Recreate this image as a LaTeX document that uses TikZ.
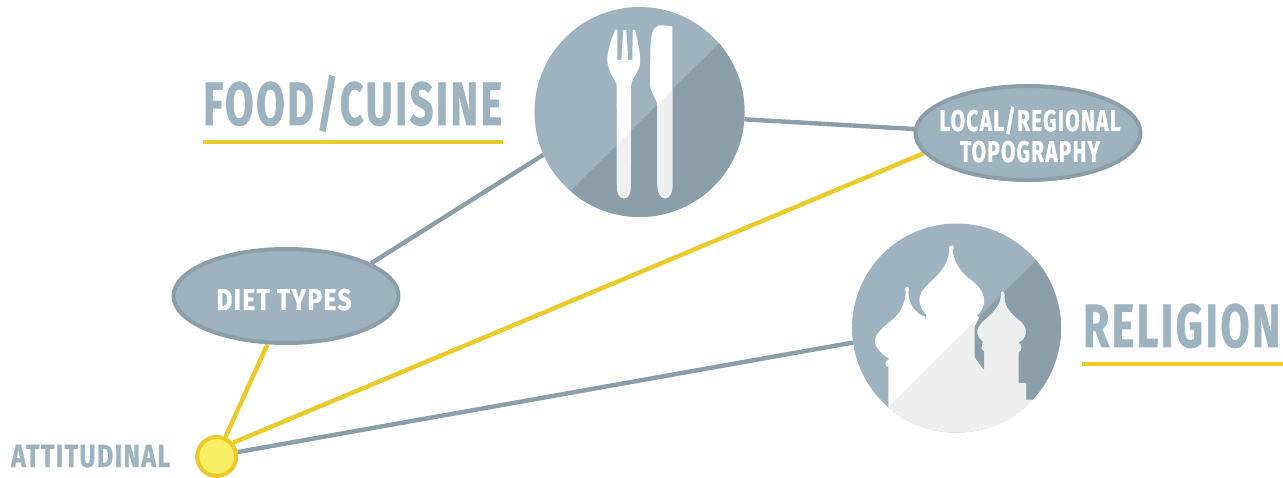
\documentclass[tikz,border=0pt]{standalone}
\usepackage{fontspec}
\setmainfont{Fira Sans}[LetterSpace=6,BoldFeatures={FakeBold=1.2}]
\usetikzlibrary{shapes.geometric,backgrounds}
\definecolor{lightblue}{HTML}{9FB3BE}
\definecolor{darkblue}{HTML}{8C9EA7}
\definecolor{paleicon}{HTML}{EEF0EF}
\definecolor{goldline}{HTML}{EBCB29}
\definecolor{sunfill}{HTML}{F7EE64}
\newcommand{\lab}[4]{\makebox[0pt]{\hspace{#4}\raisebox{#2}[0pt][0pt]{\resizebox{#1pt}{\height}{#3}}}}
\newcommand{\forkpath}{(255,90) -- (262,90) -- (262,180) -- (274,180) -- (280,90) -- (289,90) -- (295,180) -- (307,180) -- (308,90) -- (315,90) .. controls (325,130) and (332,165) .. (330,190) .. controls (328,215) and (305,235) .. (303,255) -- (302,560) .. controls (302,580) and (295,595) .. (282,595) .. controls (268,595) and (261,580) .. (261,560) -- (260,255) .. controls (255,235) and (232,215) .. (232,180) .. controls (232,150) and (245,115) .. (255,90) -- cycle}
\newcommand{\knifepath}{(427,80) .. controls (410,76) and (395,75) .. (385,77) .. controls (368,82) and (362,105) .. (361,150) -- (360,255) .. controls (362,280) and (382,295) .. (382,320) -- (382,550) .. controls (383,580) and (392,595) .. (405,595) .. controls (420,595) and (430,575) .. (427,540) -- cycle}
\newcommand{\churchpath}{(130,700) -- (130,440) .. controls (120,442) and (115,425) .. (133,417) .. controls (115,405) and (88,385) .. (90,360) .. controls (92,335) and (130,310) .. (150,292) .. controls (170,272) and (182,245) .. (182,213) .. controls (176,205) and (186,198) .. (191,203) .. controls (195,208) and (190,212) .. (190,215) .. controls (190,250) and (210,280) .. (240,290) -- (240,303) -- (245,285) .. controls (225,265) and (220,245) .. (225,228) .. controls (235,190) and (290,175) .. (310,110) -- (313,92) .. controls (306,80) and (325,70) .. (327,82) -- (323,92) .. controls (328,135) and (355,165) .. (385,185) .. controls (410,205) and (420,230) .. (417,250) .. controls (413,270) and (405,278) .. (395,285) -- (402,292) -- (388,320) -- (388,412) -- (418,452) -- (418,395) -- (410,385) -- (414,364) .. controls (405,358) and (395,345) .. (398,330) .. controls (402,310) and (435,290) .. (450,270) .. controls (462,255) and (468,240) .. (468,226) .. controls (462,214) and (480,208) .. (478,224) .. controls (475,250) and (490,275) .. (515,295) .. controls (530,307) and (545,320) .. (542,340) .. controls (538,355) and (530,362) .. (520,368) .. controls (532,375) and (532,390) .. (520,398) -- (520,490) -- (543,490) -- (543,540) -- (700,540) -- (700,700) -- cycle}
\tikzset{
  link/.style={line width=4.4pt,draw=darkblue},
  goldlink/.style={line width=4.4pt,draw=goldline},
  disc/.style={circle,inner sep=0pt,fill=lightblue},
  oval/.style={ellipse,inner sep=0pt,fill=lightblue,draw=darkblue,line width=4pt,minimum width=225pt,minimum height=94pt,text=white,font=\bfseries\fontsize{30}{30}\selectfont},
  sun/.style={circle,inner sep=0pt,fill=sunfill,draw=goldline,line width=4pt,minimum size=39pt},
  heading/.style={anchor=base west,inner sep=0pt,text=lightblue,font=\bfseries\fontsize{61}{62}\selectfont},
  rule/.style={line width=4pt,draw=goldline},
}
\begin{document}
\begin{tikzpicture}[x=1pt,y=-1pt]
\useasboundingbox (0,0) rectangle (1283,478);
% nodes
\node[disc,minimum size=210pt] (food) at (639.5,112) {};
\node[disc,minimum size=209pt] (rel) at (956.5,328) {};
\node[oval] (diet) at (286,296) {\lab{135}{-14pt}{DIET TYPES}{-4pt}};
\node[oval] (local) at (1028,133) {\lab{181}{2pt}{LOCAL/REGIONAL}{4pt}\lab{140}{-29pt}{TOPOGRAPHY}{4pt}};
\node[sun] (att) at (216.7,456.5) {};
% connectors
\begin{scope}[on background layer]
\draw[link] (food.204) -- (diet.21);
\draw[link] (food.-4) -- (local.178);
\draw[goldlink] (local.191) -- (att.40);
\draw[goldlink] (diet.249) -- (att.66);
\draw[link] (att.12) -- (rel.188);
\end{scope}
% food disc
\begin{scope}[shift={(530,0)},x=0.33333pt,y=-0.33333pt]
\begin{scope}
\clip (328.5,336) circle (315);
\fill[darkblue] (567,130) -- (125,570) -- (125,700) -- (700,700) -- (700,130) -- cycle;
\end{scope}
\fill[white] \forkpath;
\fill[white] \knifepath;
\begin{scope}
\clip (567,130) -- (125,570) -- (125,700) -- (700,700) -- (700,130) -- cycle;
\fill[paleicon] \forkpath;
\fill[paleicon] \knifepath;
\end{scope}
\end{scope}
% religion disc
\begin{scope}[shift={(845,220)},x=0.33333pt,y=-0.33333pt]
\begin{scope}
\clip (334.5,324) circle (313.5);
\fill[darkblue] (572,122) -- (130,562) -- (130,700) -- (700,700) -- (700,122) -- cycle;
\fill[white] \churchpath;
\clip (572,122) -- (130,562) -- (130,700) -- (700,700) -- (700,122) -- cycle;
\fill[paleicon] \churchpath;
\end{scope}
\end{scope}
% headings
\node[heading] (foodlab) at (203,125) {\resizebox{299pt}{\height}{FOOD/CUISINE}};
\coordinate (foodruleA) at (203,142);
\coordinate (foodruleB) at (503,142);
\draw[rule] (foodruleA) -- (foodruleB);
\node[heading] (rellab) at (1083,347) {\resizebox{197pt}{\height}{RELIGION}};
\coordinate (relruleA) at (1082,364);
\coordinate (relruleB) at (1283,364);
\draw[rule] (relruleA) -- (relruleB);
\node[heading,font=\bfseries\fontsize{32}{33}\selectfont] (attlab) at (11,467) {\resizebox{159pt}{\height}{ATTITUDINAL}};
\end{tikzpicture}
\end{document}
